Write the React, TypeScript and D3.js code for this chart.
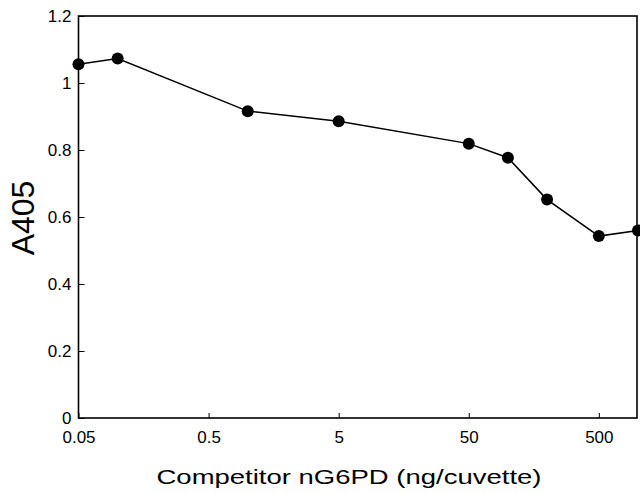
import React, { useEffect, useRef } from "react";
import * as d3 from "d3";

// competitor amounts (ng/cuvette) and absorbance
const competitor = [0.05, 0.1, 1, 5, 50, 100, 200, 500, 1000];
const a405 = [1.056, 1.073, 0.916, 0.886, 0.819, 0.777, 0.652, 0.543, 0.56];

const xTicks = [0.05, 0.5, 5, 50, 500];
const yTicks = [0, 0.2, 0.4, 0.6, 0.8, 1, 1.2];

const width = 640;
const height = 493;

const App = () => {
  const ref = useRef<SVGSVGElement | null>(null);

  useEffect(() => {
    const svg = d3.select(ref.current);
    svg.selectAll("*").remove();

    const margin = { top: 16, right: 2, bottom: 75, left: 78.5 };
    const font = "'Liberation Sans', Arial, Helvetica, sans-serif";

    const xScale = d3
      .scaleLog()
      .domain([0.05, 1000])
      .range([margin.left, width - margin.right]);

    const yScale = d3
      .scaleLinear()
      .domain([0, 1.2])
      .range([height - margin.bottom, margin.top]);

    // x axis, ticks pointing inwards
    const gx = svg
      .append("g")
      .attr("transform", `translate(0,${height - margin.bottom})`)
      .call(
        d3
          .axisBottom(xScale)
          .tickValues(xTicks)
          .tickFormat((d) => String(d))
          .tickSize(-5)
          .tickPadding(13)
      );
    gx.select(".domain").remove();
    gx.selectAll("text")
      .style("font-family", font)
      .style("font-size", "17px")
      .attr("fill", "#000");

    // y axis
    const gy = svg
      .append("g")
      .attr("transform", `translate(${margin.left},0)`)
      .call(
        d3
          .axisLeft(yScale)
          .tickValues(yTicks)
          .tickFormat(d3.format("~g"))
          .tickSize(-6)
          .tickPadding(7)
      );
    gy.select(".domain").remove();
    gy.selectAll("text")
      .style("font-family", font)
      .style("font-size", "17px")
      .attr("fill", "#000");
    svg.selectAll(".tick line").attr("stroke", "#000").attr("stroke-width", 1);

    // frame around the plot
    svg
      .append("rect")
      .attr("x", margin.left)
      .attr("y", margin.top)
      .attr("width", width - margin.right - margin.left - 1)
      .attr("height", height - margin.bottom - margin.top)
      .attr("fill", "none")
      .attr("stroke", "#000")
      .attr("stroke-width", 1.6);

    const pts = competitor.map((c, i) => [c, a405[i]] as [number, number]);

    const line = d3
      .line<[number, number]>()
      .x((d) => xScale(d[0]))
      .y((d) => yScale(d[1]));

    svg
      .append("path")
      .datum(pts)
      .attr("d", line)
      .attr("fill", "none")
      .attr("stroke", "#000")
      .attr("stroke-width", 1.5);

    svg
      .selectAll("circle")
      .data(pts)
      .enter()
      .append("circle")
      .attr("cx", (d) => xScale(d[0]))
      .attr("cy", (d) => yScale(d[1]))
      .attr("r", 6)
      .attr("fill", "#000");

    // axis titles
    svg
      .append("text")
      .attr("x", 349)
      .attr("y", 483.5)
      .attr("text-anchor", "middle")
      .attr("textLength", 385)
      .attr("lengthAdjust", "spacingAndGlyphs")
      .style("font-family", font)
      .style("font-size", "21px")
      .text("Competitor nG6PD (ng/cuvette)");

    svg
      .append("text")
      .attr("transform", "translate(33.5,218) rotate(-90)")
      .attr("text-anchor", "middle")
      .style("font-family", font)
      .style("font-size", "32px")
      .text("A405");
  }, []);

  return (
    <svg
      ref={ref}
      width={width}
      height={height}
      style={{ position: "absolute", left: 0, top: 0, background: "#fff" }}
    />
  );
};

export default App;
